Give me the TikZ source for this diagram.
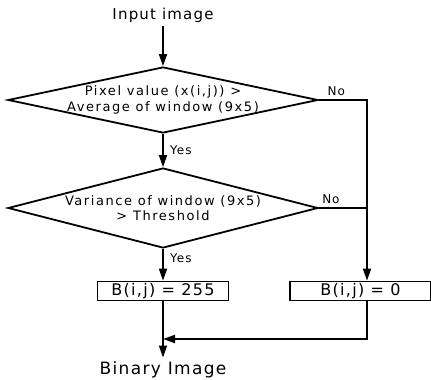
\documentclass[tikz,border=0pt]{standalone}
\usepackage{fontspec}
\setmainfont{DejaVu Sans}[LetterSpace=8]
\usepackage{tikz}
\usetikzlibrary{shapes.geometric,arrows.meta,positioning}

\begin{document}
\begin{tikzpicture}[x=1pt,y=-1pt,on grid,line width=1.8pt,
  arr/.style={-{Triangle[length=12pt,width=8pt]}},
  test/.style={diamond,draw,inner xsep=-25pt,inner ysep=-4pt,minimum width=310pt,align=center,font=\fontsize{13}{15.5}\selectfont\addfontfeature{LetterSpace=12}},
  blk/.style={draw,rectangle,minimum width=131pt,minimum height=19pt,inner sep=0pt,font=\fontsize{16}{18}\selectfont},
  lbl/.style={font=\fontsize{12}{14}\selectfont}]
  \useasboundingbox (0,0) rectangle (431,380);
   \node[font=\fontsize{15}{18}\selectfont] (in) at (163,15) {Input image};
   \node[test,minimum height=66pt,shape aspect=4.7] (d1) [below=85pt of in] {Pixel value (x(i,j)) >\\Average of window (9x5)};
   \node[test,minimum height=80pt,shape aspect=3.9] (d2) [below=108pt of d1] {Variance of window (9x5)\\> Threshold};
   \node[blk] (b1) [below=83pt of d2] {B(i,j) = 255};
   \node[blk,minimum width=141pt] (b2) [right=197.5pt of b1] {B(i,j) = 0};
   \node[font=\fontsize{17}{20}\selectfont] (out) [below=79pt of b1] {Binary Image};
   \coordinate[right=6.5pt of b2.north] (b2n);
   \coordinate[right=6.5pt of b2.south] (b2s);
   \coordinate[below=48pt of b1] (m);
   \draw[arr] (in) -- (d1);
   \draw[arr] (d1) -- node[lbl,right=3pt] {Yes} (d2);
   \draw[arr] (d2) -- node[lbl,right=3pt,pos=0.3] {Yes} (b1);
   \draw[arr] (d1.east) -| node[lbl,above,pos=0.18] {No} (b2n);
   \draw (d2.east) -- node[lbl,above,pos=0.25] {No} (d2.east -| b2n);
   \draw[arr] (b2s) |- (m);
   \draw[arr] (b1) -- (out);
\end{tikzpicture}
\end{document}
